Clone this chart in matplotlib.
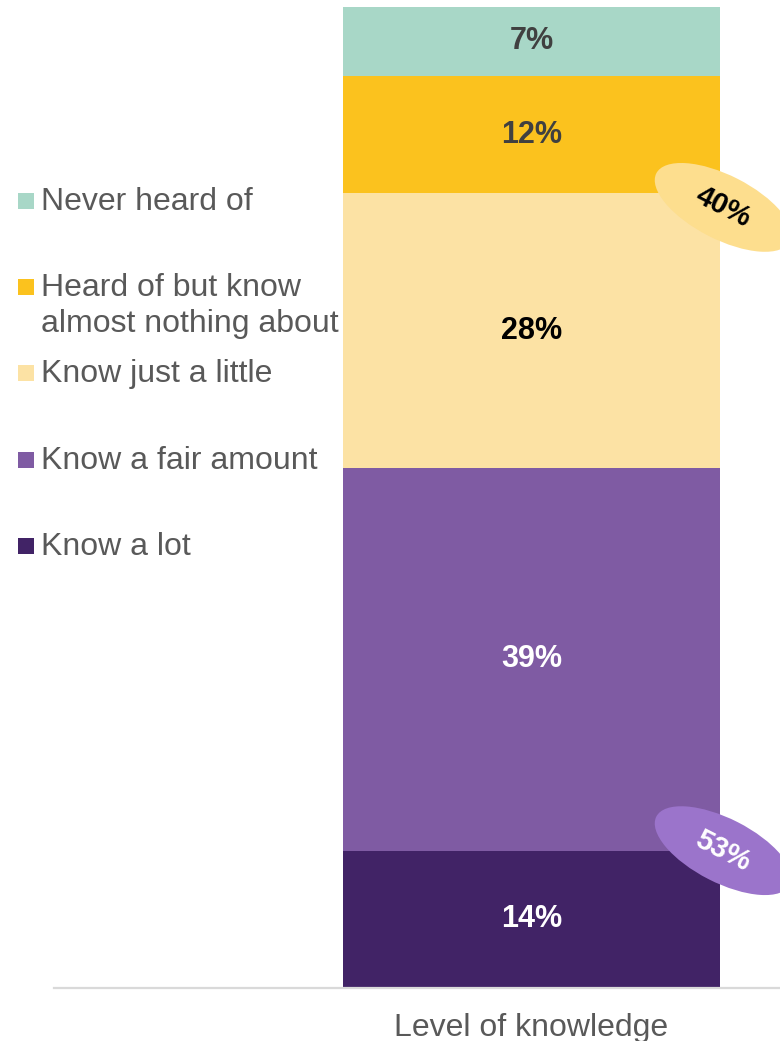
import matplotlib.pyplot as plt
from matplotlib.patches import Ellipse, Rectangle
from matplotlib import transforms

plt.rcParams['font.family'] = ['Liberation Sans', 'DejaVu Sans']

categories = ['Never heard of', 'Heard of but know\nalmost nothing about',
              'Know just a little', 'Know a fair amount', 'Know a lot']
values = [7, 12, 28, 39, 14]
colors = ['#a8d7c7', '#fbc21e', '#fce2a4', '#7f5ba3', '#412366']
label_colors = ['#404040', '#404040', '#000000', '#ffffff', '#ffffff']
bar_label = 'Level of knowledge'

# grouped totals shown in the ovals: (value, boundary the oval sits on, fill, text colour)
net_values = [40, 53]
net_edges = [81, 14]
net_colors = ['#fdde8e', '#9b74cb']
net_text = ['#000000', '#ffffff']

fig = plt.figure(figsize=(7.8, 10.41), dpi=100)
ax = fig.add_axes([54 / 780, 53 / 1041, 726 / 780, 981 / 1041])

# stack from the bottom ("Know a lot") up to "Never heard of"
bottom = 0
for cat, v, c, tc in zip(categories[::-1], values[::-1], colors[::-1], label_colors[::-1]):
    ax.bar(0, v, bottom=bottom, width=0.8, color=c, edgecolor='none')
    ax.text(0, bottom + v / 2, f'{v}%', ha='center', va='center',
            fontsize=22, fontweight='bold', color=tc)
    bottom += v

ax.set_ylim(0, 100)
ax.set_xlim(-1.013, 0.527)
ax.set_xticks([0])
ax.set_xticklabels([bar_label], fontsize=23, color='#595959')
ax.tick_params(axis='x', length=0, pad=18)
ax.set_yticks([])
for s in ['top', 'left', 'right']:
    ax.spines[s].set_visible(False)
ax.spines['bottom'].set_color('#d9d9d9')
ax.spines['bottom'].set_linewidth(1.6)

# tilted ovals with the net figures, hanging off the right edge of the bar
offsets = [-0.14, 0.0]
for v, edge, fc, tc, dy in zip(net_values, net_edges, net_colors, net_text, offsets):
    tr = fig.dpi_scale_trans + transforms.ScaledTranslation(0.4, edge, ax.transData)
    el = Ellipse((0.03, dy), 1.50, 0.64, angle=-27, facecolor=fc,
                 edgecolor='none', transform=tr, clip_on=False, zorder=3)
    ax.add_patch(el)
    ax.text(0.03, dy, f'{v}%', transform=tr, ha='center', va='center',
            rotation=-27, rotation_mode='anchor', fontsize=21, fontweight='bold',
            color=tc, zorder=4, clip_on=False)

# legend, one entry every ~86 px with the swatch beside the first line
legend_y = [201, 287, 373, 460, 546]
for cat, c, y in zip(categories, colors, legend_y):
    fig.add_artist(Rectangle((18 / 780, 1 - (y + 8) / 1041), 16 / 780, 16 / 1041,
                             facecolor=c, edgecolor='none', transform=fig.transFigure))
    fig.text(41 / 780, 1 - (y + 1) / 1041, cat.split('\n')[0], ha='left', va='center',
             fontsize=23, color='#595959')
    if '\n' in cat:
        fig.text(41 / 780, 1 - (y + 37) / 1041, cat.split('\n')[1], ha='left',
                 va='center', fontsize=23, color='#595959')

fig.savefig('out.png', dpi=100)
